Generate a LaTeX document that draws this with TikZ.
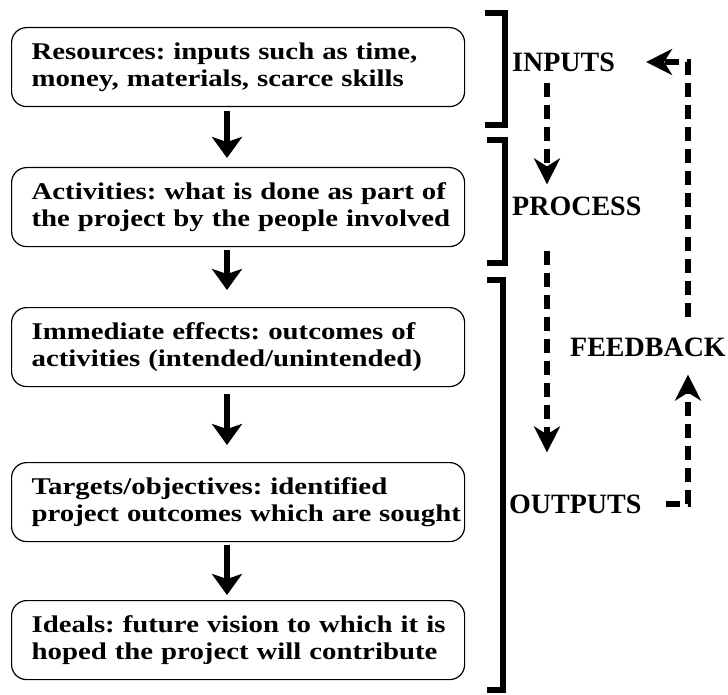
\documentclass[tikz,border=0pt]{standalone}
\usepackage{fontspec}
\setmainfont{Liberation Serif}
\newfontfamily\boxfont{Liberation Serif}[FakeStretch=1.2]
\usetikzlibrary{arrows.meta,positioning}
\frenchspacing

\tikzset{
  stage/.style={draw, rounded corners=15pt, line width=1.2pt,
    anchor=north west, minimum height=79pt, inner xsep=3pt, inner ysep=0pt,
    text width=447pt, align=left,
    execute at begin node={\leftskip=17pt},
    font=\boxfont\bfseries\fontsize{24}{27}\selectfont},
  tag/.style={anchor=west, inner sep=0pt,
    font=\bfseries\fontsize{28}{30}\selectfont},
  flow/.style={line width=6pt, -{Stealth[length=21pt, width=30pt, inset=5pt]}},
  dashflow/.style={line width=6pt, dash pattern=on 14pt off 8pt,
    -{Stealth[length=26pt, width=26pt, inset=8pt]}},
  bracket/.style={line width=5.5pt}
}

\begin{document}
\begin{tikzpicture}[x=1pt, y=-1pt]
  \useasboundingbox (0,0) rectangle (728,695);

  % the chain of stages
  \node[stage] (res) at (11,27)
    {Resources: inputs such as time,\\money, materials, scarce skills};
  \node[stage] (act) at (11,167)
    {Activities: what is done as part of\\the project by the people involved};
  \node[stage] (eff) at (11,307)
    {Immediate effects: outcomes of\\activities (intended/unintended)};
  \node[stage] (tgt) at (11,462)
    {Targets/objectives: identified\\project outcomes which are sought};
  \node[stage] (ideal) at (11,600)
    {Ideals: future vision to which it is\\hoped the project will contribute};

  \coordinate (spine) at (227,0);
  \draw[flow, shorten <=4pt, shorten >=9pt] (res.south -| spine) -- (act.north -| spine);
  \draw[flow, shorten <=3pt, shorten >=17pt] (act.south -| spine) -- (eff.north -| spine);
  \draw[flow, shorten <=7pt, shorten >=17pt] (eff.south -| spine) -- (tgt.north -| spine);
  \draw[flow, shorten <=3pt, shorten >=5pt] (tgt.south -| spine) -- (ideal.north -| spine);

  % brackets grouping the stages
  \draw[bracket] (485,13) -- (505,13) -- (505,125) -- (485,125);
  \draw[bracket] (487,140) -- (505,140) -- (505,263) -- (487,263);
  \draw[bracket] (487,280) -- (503,280) -- (503,690) -- (487,690);

  % labels and the feedback loop
  \node[tag] (inputs) at (512,62) {INPUTS};
  \node[tag] (process) at (512,206) {PROCESS};
  \node[tag] (feedback) at (570,347) {FEEDBACK};
  \node[tag] (outputs) at (509,504) {OUTPUTS};

  \coordinate (lane) at (547,0);
  \coordinate (fb) at (688,0);
  \draw[dashflow, shorten <=11pt, shorten >=12pt] (inputs.south -| lane) -- (process.north -| lane);
  \draw[dashflow, shorten <=35pt, shorten >=42pt] (process.south -| lane) -- (outputs.north -| lane);
  \draw[dashflow, shorten <=24pt, shorten >=18pt] (outputs.east) -| (feedback.south -| fb);
  \draw[dashflow, shorten <=20pt, shorten >=31pt] (feedback.north -| fb) |- (inputs.east);
\end{tikzpicture}
\end{document}
